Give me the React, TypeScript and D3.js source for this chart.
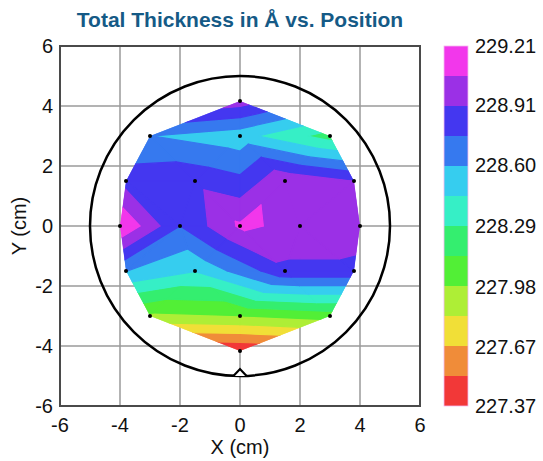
import { useMemo } from 'react';
import * as d3 from 'd3';

// measurement sites (cm) and thickness (Å)
const siteX = [0, -3, 0, 3, -3.8, -1.5, 1.5, 3.8, -4, -2, 0, 2, 4, -3.8, -1.5, 1.5, 3.8, -3, 0, 3, 0];
const siteY = [4.17, 3, 3, 3, 1.5, 1.5, 1.5, 1.5, 0, 0, 0, 0, 0, -1.5, -1.5, -1.5, -1.5, -3, -3, -3, -4.17];
const thickness = [
  228.98, 228.6, 228.5, 228.22,
  228.84, 228.86, 229.03, 228.9,
  229.21, 228.75, 229.08, 229.02, 228.98,
  228.6, 228.45, 228.86, 228.86,
  227.95, 227.98, 228.05,
  227.37,
];

const legendLabels = ['227.37', '227.67', '227.98', '228.29', '228.60', '228.91', '229.21'];
const bandColors = [
  '#f23838', '#f08c39', '#f1df37', '#aeee36', '#52ef36', '#34ee6f',
  '#36efc6', '#36cdef', '#3679ef', '#4437f0', '#9b30e6', '#f237eb',
];

const W = 543;
const H = 461;
const font = 'Liberation Sans, Arial, sans-serif';

type P = { x: number; y: number; v: number };

// clip a polygon (with linear values) to v >= t (sign 1) or v <= t (sign -1)
const clip = (poly: P[], t: number, sign: number): P[] => {
  const out: P[] = [];
  for (let i = 0; i < poly.length; i++) {
    const a = poly[i];
    const b = poly[(i + 1) % poly.length];
    const ia = sign * (a.v - t) >= 0;
    const ib = sign * (b.v - t) >= 0;
    if (ia) out.push(a);
    if (ia !== ib) {
      const k = (t - a.v) / (b.v - a.v);
      out.push({ x: a.x + k * (b.x - a.x), y: a.y + k * (b.y - a.y), v: t });
    }
  }
  return out;
};

const App = () => {
  const x = d3.scaleLinear().domain([-6, 6]).range([60, 420]);
  const y = d3.scaleLinear().domain([-6, 6]).range([406, 46]);

  const vMin = d3.min(thickness)!;
  const vMax = d3.max(thickness)!;
  const thresholds = d3.range(bandColors.length + 1).map((i) => vMin + (i * (vMax - vMin)) / bandColors.length);
  const legendY = d3.scaleLinear().domain([vMin, vMax]).range([406, 46]);

  const bands = useMemo(() => {
    const pts = siteX.map((sx, i) => [sx, siteY[i]] as [number, number]);
    const del = d3.Delaunay.from(pts);
    const out: { d: string; color: string }[] = [];
    const tri = del.triangles;
    for (let b = 0; b < bandColors.length; b++) {
      const lo = b === 0 ? -Infinity : thresholds[b];
      const hi = b === bandColors.length - 1 ? Infinity : thresholds[b + 1];
      for (let i = 0; i < tri.length; i += 3) {
        let poly: P[] = [tri[i], tri[i + 1], tri[i + 2]].map((k) => ({ x: siteX[k], y: siteY[k], v: thickness[k] }));
        if (lo > -Infinity) poly = clip(poly, lo, 1);
        if (poly.length < 3) continue;
        if (hi < Infinity) poly = clip(poly, hi, -1);
        if (poly.length < 3) continue;
        const d = 'M' + poly.map((p) => `${x(p.x)},${y(p.y)}`).join('L') + 'Z';
        out.push({ d, color: bandColors[b] });
      }
    }
    return out;
  }, []);

  const hull = useMemo(() => {
    const pts = siteX.map((sx, i) => [x(sx), y(siteY[i])] as [number, number]);
    return 'M' + d3.polygonHull(pts)!.join('L') + 'Z';
  }, []);

  const ticks = x.ticks(6);
  const notch = `M${x(-0.22)},${y(-5)}L${x(0)},${y(-4.77)}L${x(0.22)},${y(-5)}`;

  return (
    <svg width={W} height={H} style={{ position: 'absolute', left: 0, top: 0 }}>
      <defs>
        <clipPath id="hull">
          <path d={hull} />
        </clipPath>
      </defs>
      <rect width={W} height={H} fill="#fff" />
      <text x={240} y={27} textAnchor="middle" fontFamily={font} fontWeight="bold" fontSize={21} fill="#155a86">
        Total Thickness in Å vs. Position
      </text>

      {/* grid */}
      {ticks.map((t) => (
        <g key={t}>
          <line x1={x(t)} x2={x(t)} y1={y(-6)} y2={y(6)} stroke="#9a9a9a" strokeWidth={1.5} />
          <line x1={x(-6)} x2={x(6)} y1={y(t)} y2={y(t)} stroke="#9a9a9a" strokeWidth={1.5} />
        </g>
      ))}

      {/* contour bands */}
      <g clipPath="url(#hull)">
        {bands.map((b, i) => (
          <path key={i} d={b.d} fill={b.color} stroke={b.color} strokeWidth={1.2} strokeLinejoin="round" />
        ))}
      </g>

      {/* wafer outline */}
      <circle cx={x(0)} cy={y(0)} r={x(5) - x(0)} fill="none" stroke="#000" strokeWidth={2.5} />
      <path d={notch} fill="#fff" stroke="#000" strokeWidth={2.2} />

      {siteX.map((sx, i) => (
        <circle key={i} cx={x(sx)} cy={y(siteY[i])} r={2} fill="#000" />
      ))}

      <rect x={60} y={46} width={360} height={360} fill="none" stroke="#4a4a4a" strokeWidth={2} />

      {/* axes labels */}
      {ticks.map((t) => (
        <text key={'x' + t} x={x(t)} y={432} textAnchor="middle" fontFamily={font} fontSize={20} fill="#111">
          {t}
        </text>
      ))}
      {ticks.map((t) => (
        <text key={'y' + t} x={53} y={y(t) + 7} textAnchor="end" fontFamily={font} fontSize={20} fill="#111">
          {t}
        </text>
      ))}
      <text x={240} y={454} textAnchor="middle" fontFamily={font} fontSize={20} fill="#111">
        X (cm)
      </text>
      <text transform={`translate(26,226) rotate(-90)`} textAnchor="middle" fontFamily={font} fontSize={20} fill="#111">
        Y (cm)
      </text>

      {/* legend */}
      {bandColors.map((c, i) => (
        <rect
          key={c}
          x={444}
          y={legendY(thresholds[i + 1])}
          width={24}
          height={legendY(thresholds[i]) - legendY(thresholds[i + 1])}
          fill={c}
        />
      ))}
      <rect x={444} y={46} width={24} height={360} fill="none" stroke="#f4b8f0" strokeWidth={0.8} />
      {legendLabels.map((l) => (
        <text key={l} x={475} y={legendY(+l) + 7} fontFamily={font} fontSize={20} fill="#111">
          {l}
        </text>
      ))}
    </svg>
  );
};

export default App;
